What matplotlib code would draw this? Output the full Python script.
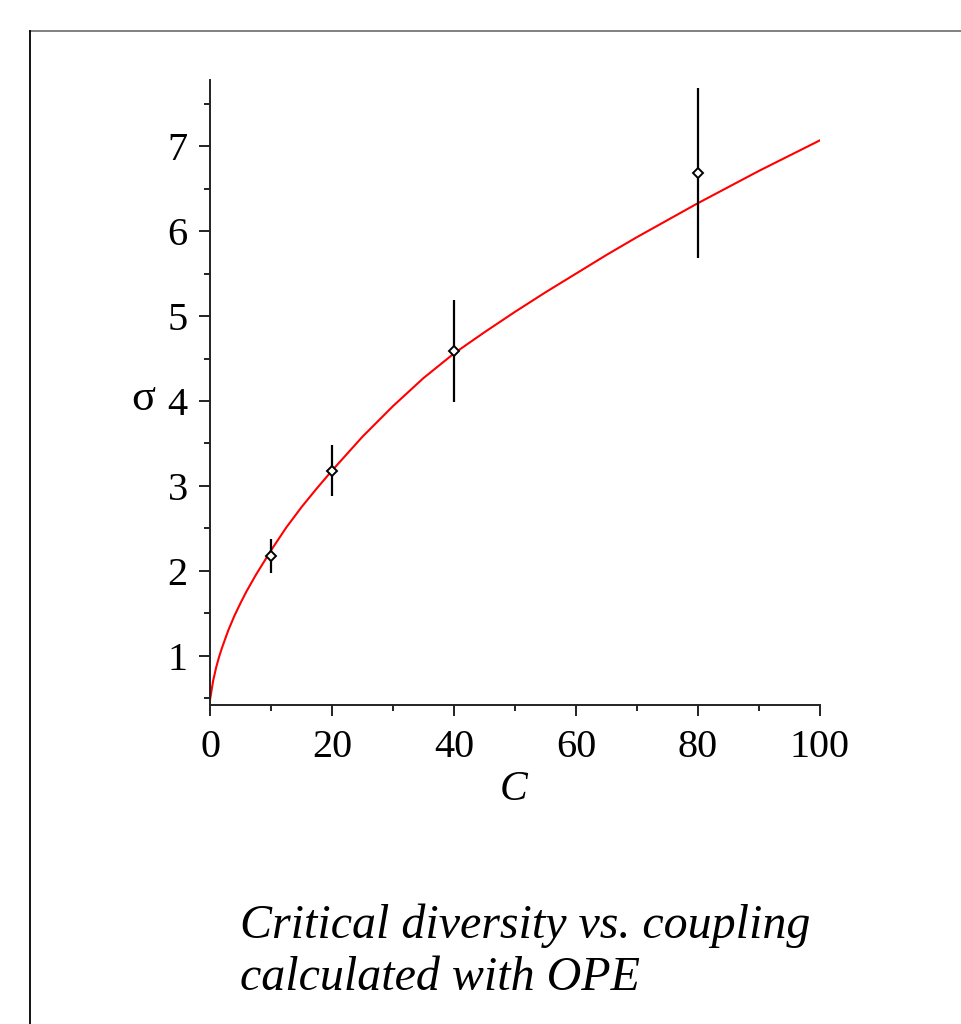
import matplotlib
matplotlib.use("Agg")
import matplotlib.pyplot as plt
from matplotlib.lines import Line2D

# OPE curve: critical diversity sigma against coupling C
curve_c = [0, 0.5, 1, 1.5, 2, 3, 4, 5, 6, 7.5, 10, 12.5, 15, 17.5, 20, 25, 30,
           35, 40, 45, 50, 55, 60, 65, 70, 75, 80, 85, 90, 95, 100]
curve_sigma = [0.48, 0.70, 0.86, 0.99, 1.10, 1.30, 1.47, 1.62, 1.76, 1.95, 2.24,
               2.51, 2.75, 2.97, 3.18, 3.58, 3.94, 4.27, 4.56, 4.81, 5.05, 5.28,
               5.50, 5.72, 5.93, 6.13, 6.33, 6.52, 6.71, 6.89, 7.07]

# simulation points with error bars
sim_c = [10, 20, 40, 80]
sim_sigma = [2.18, 3.18, 4.59, 6.68]
sim_err = [0.2, 0.3, 0.6, 1.0]

serif = "Liberation Serif"

fig = plt.figure(figsize=(9.62, 10.24), dpi=100)

# slide frame
fig.add_artist(Line2D([30/962, 1.0], [1 - 31/1024, 1 - 31/1024],
                      transform=fig.transFigure, color="#777777", lw=1.3))
fig.add_artist(Line2D([30/962, 30/962], [0.0, 1 - 31/1024],
                      transform=fig.transFigure, color="black", lw=1.3))

ax = fig.add_axes([210/962, 319/1024, 610/962, 625/1024])

ax.plot(curve_c, curve_sigma, color="red", lw=1.5, zorder=2)
ax.errorbar(sim_c, sim_sigma, yerr=sim_err, fmt="D", ms=5.5, mfc="white",
            mec="black", mew=1.4, ecolor="black", elinewidth=1.6, capsize=0,
            zorder=3)

ax.set_xlim(0, 100)
ax.set_ylim(0.42, 7.78)

for side in ["top", "right"]:
    ax.spines[side].set_visible(False)
for side in ["left", "bottom"]:
    ax.spines[side].set_linewidth(1.4)
    ax.spines[side].set_color("#222222")

ax.set_xticks([0, 20, 40, 60, 80, 100])
ax.set_xticks([10, 30, 50, 70, 90], minor=True)
ax.set_yticks([1, 2, 3, 4, 5, 6, 7])
ax.set_yticks([0.5, 1.5, 2.5, 3.5, 4.5, 5.5, 6.5, 7.5], minor=True)

ax.tick_params(which="major", direction="out", length=8, width=1.4,
               color="#222222", labelsize=29, pad=8)
ax.tick_params(which="minor", direction="out", length=4, width=1.4,
               color="#222222")
ax.tick_params(axis="x", which="major", pad=9)
for lab in ax.get_xticklabels() + ax.get_yticklabels():
    lab.set_fontfamily(serif)

ax.set_xlabel("C", fontsize=30, fontfamily=serif, fontstyle="italic")
ax.xaxis.set_label_coords(0.498, -0.105)
ax.set_ylabel("σ", fontsize=32, fontfamily=serif, rotation=0, va="center")
ax.yaxis.set_label_coords(-0.11, 0.49)

fig.text(240/962, 1 - 952/1024, "Critical diversity vs. coupling\ncalculated with OPE",
         fontsize=34.6, fontfamily=serif, fontstyle="italic", ha="left", va="center",
         linespacing=1.25)

fig.savefig("out.png", dpi=100)
